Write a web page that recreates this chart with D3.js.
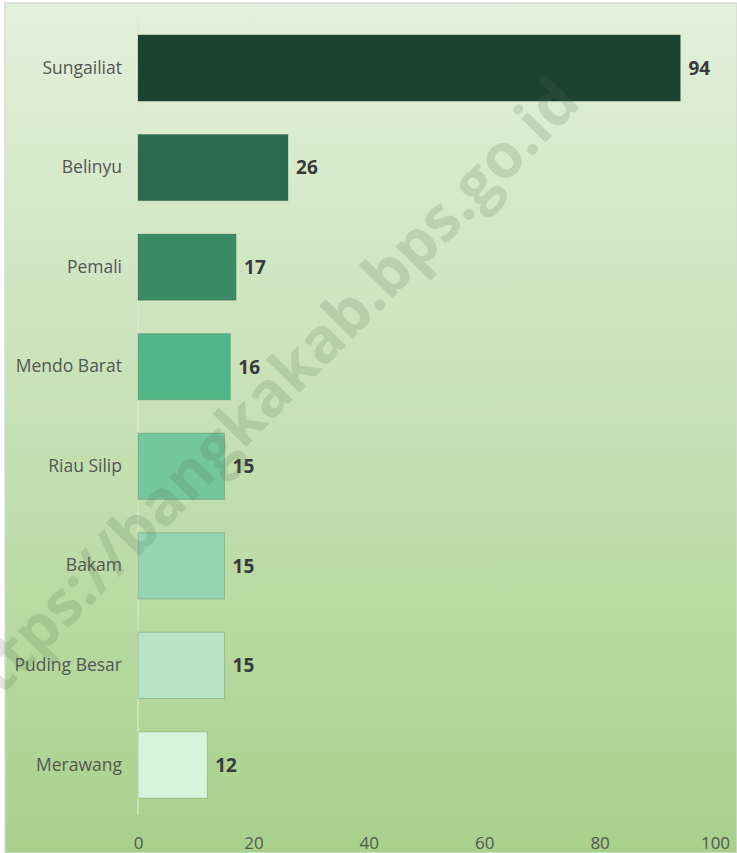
<!DOCTYPE html>
<html>
<head>
<meta charset="utf-8">
<script src="https://cdn.jsdelivr.net/npm/d3@7"></script>
<style>
  html, body { margin: 0; padding: 0; background: #ffffff; }
  svg { display: block; }
</style>
</head>
<body>
<div class="canvas"></div>
<script>
// data
const categories = ["Sungailiat", "Belinyu", "Pemali", "Mendo Barat", "Riau Silip", "Bakam", "Puding Besar", "Merawang"];
const values = [94, 26, 17, 16, 15, 15, 15, 12];
const barColors = ["#1b4332", "#2d6a4f", "#3b8a63", "#52b788", "#74c69d", "#95d5b2", "#b7e4c7", "#d8f3dc"];
const xTicks = [0, 20, 40, 60, 80, 100];

const svgWidth = 737, svgHeight = 853;
const margin = { top: 18, right: 22, bottom: 38, left: 138 };
const frame = { x: 5, y: 3 };

const svg = d3.select('.canvas').append('svg')
  .attr("width", svgWidth)
  .attr("height", svgHeight);

// background gradient
const defs = svg.append('defs');
const grad = defs.append('linearGradient')
  .attr("id", "bg")
  .attr("x1", 0).attr("y1", 0).attr("x2", 0).attr("y2", 1);
grad.append('stop').attr("offset", "0%").attr("stop-color", "#e3f0db");
grad.append('stop').attr("offset", "100%").attr("stop-color", "#a8d18c");

svg.append('rect')
  .attr("x", frame.x)
  .attr("y", frame.y)
  .attr("width", svgWidth - frame.x)
  .attr("height", svgHeight - frame.y)
  .attr("fill", "url(#bg)")
  .attr("stroke", "#d9d9d9")
  .attr("stroke-width", 1.5);

const plotBottom = 815;

const xScale = d3.scaleLinear()
  .domain([0, 100])
  .range([margin.left, margin.left + 577]);

const yScale = d3.scaleBand()
  .domain(categories)
  .range([margin.top, plotBottom])
  .paddingInner(0.335)
  .paddingOuter(0.17);

// vertical axis line
svg.append('line')
  .attr("x1", xScale(0)).attr("x2", xScale(0))
  .attr("y1", margin.top).attr("y2", plotBottom)
  .attr("stroke", "#dce6d6")
  .attr("stroke-width", 1.2);

// bars
svg.append('g').selectAll('rect')
  .data(values)
  .enter().append('rect')
  .attr("x", xScale(0))
  .attr("y", (d, i) => yScale(categories[i]))
  .attr("width", d => xScale(d) - xScale(0))
  .attr("height", yScale.bandwidth())
  .attr("fill", (d, i) => barColors[i])
  .attr("stroke", "rgba(60,90,60,0.25)")
  .attr("stroke-width", 1);

// value labels
svg.append('g').selectAll('text')
  .data(values)
  .enter().append('text')
  .attr("x", d => xScale(d) + 8)
  .attr("y", (d, i) => yScale(categories[i]) + yScale.bandwidth() / 2)
  .attr("dy", "0.36em")
  .style("font-family", "'Open Sans', sans-serif")
  .style("font-size", "19px")
  .style("font-weight", "bold")
  .attr("fill", "#3a3a3a")
  .text(d => d);

// category labels
const yAxis = d3.axisLeft(yScale).tickSize(0).tickPadding(16);
const yAxisGroup = svg.append('g')
  .attr("transform", `translate(${xScale(0)} 0)`)
  .call(yAxis);
yAxisGroup.select('.domain').remove();
yAxisGroup.selectAll('text')
  .style("font-family", "'Open Sans', sans-serif")
  .style("font-size", "17.5px")
  .attr("fill", "#555555");

// x axis tick labels
const xAxis = d3.axisBottom(xScale).tickValues(xTicks).tickSize(0).tickPadding(14);
const xAxisGroup = svg.append('g')
  .attr("transform", `translate(0 ${plotBottom + 8})`)
  .call(xAxis);
xAxisGroup.select('.domain').remove();
xAxisGroup.selectAll('text')
  .style("font-family", "'Open Sans', sans-serif")
  .style("font-size", "17px")
  .attr("fill", "#555555");

// watermark
svg.append('text')
  .attr("transform", "translate(262 400) rotate(-45.5)")
  .attr("text-anchor", "middle")
  .attr("dy", "0.35em")
  .style("font-family", "'Open Sans', sans-serif")
  .style("font-size", "62px")
  .style("font-weight", "bold")
  .attr("fill", "rgb(80,110,80)")
  .attr("fill-opacity", 0.18)
  .text("https://bangkakab.bps.go.id");
</script>
</body>
</html>
